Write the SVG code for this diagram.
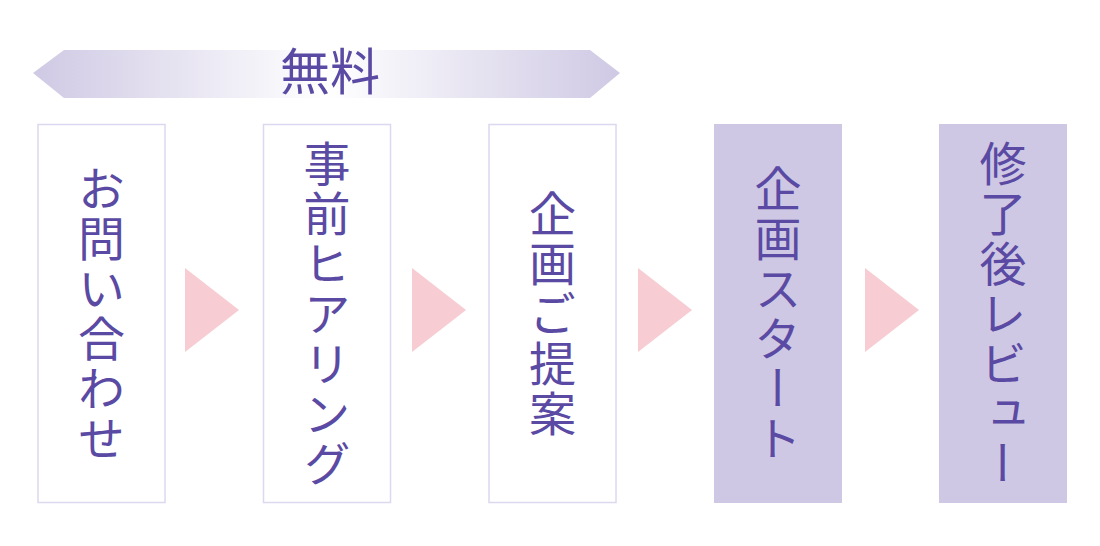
<svg xmlns="http://www.w3.org/2000/svg" width="1100" height="546" viewBox="0 0 1100 546">
  <defs>
    <linearGradient id="bannerGrad" x1="33" y1="0" x2="620" y2="0" gradientUnits="userSpaceOnUse">
      <stop offset="0" stop-color="#cfc9e4"/>
      <stop offset="0.5" stop-color="#ffffff"/>
      <stop offset="1" stop-color="#cfc9e4"/>
    </linearGradient>
    <style>
      .box-free { fill: #ffffff; stroke: #dcd8ef; stroke-width: 1.5; }
      .box-paid { fill: #cfc8e4; stroke: none; }
      .step { fill: #f7ccd3; }
      .label { font-family: "Noto Sans CJK JP", "Noto Sans", sans-serif; fill: #5a4aa3; font-size: 47px; writing-mode: vertical-rl; text-anchor: middle; letter-spacing: 3px; }
      .banner-text { font-family: "Noto Sans CJK JP", "Noto Sans", sans-serif; fill: #5a4aa3; font-size: 50px; text-anchor: middle; }
    </style>
  </defs>
  <rect width="1100" height="546" fill="#ffffff"/>

  <g id="banner">
    <polygon points="33,73 64,50 590,50 620,73 590,98 64,98" fill="url(#bannerGrad)"/>
    <text class="banner-text" x="330" y="90">無料</text>
  </g>

  <g id="connectors">
    <polygon class="step" points="185,268 239,310 185,352"/>
    <polygon class="step" points="412,268 466,310 412,352"/>
    <polygon class="step" points="638,268 692,310 638,352"/>
    <polygon class="step" points="865,268 919,310 865,352"/>
  </g>

  <g id="node1">
    <rect class="box-free" x="38" y="124.5" width="127" height="378"/>
    <text class="label" x="101.5" y="315">お問い合わせ</text>
  </g>
  <g id="node2">
    <rect class="box-free" x="263.5" y="124.5" width="127" height="378"/>
    <text class="label" x="327" y="315">事前ヒアリング</text>
  </g>
  <g id="node3">
    <rect class="box-free" x="489" y="124.5" width="127" height="378"/>
    <text class="label" x="552.5" y="315">企画ご提案</text>
  </g>
  <g id="node4">
    <rect class="box-paid" x="714" y="124" width="128" height="379"/>
    <text class="label" x="778" y="315">企画スタート</text>
  </g>
  <g id="node5">
    <rect class="box-paid" x="939" y="124" width="128" height="379"/>
    <text class="label" x="1003" y="315">修了後レビュー</text>
  </g>
</svg>
